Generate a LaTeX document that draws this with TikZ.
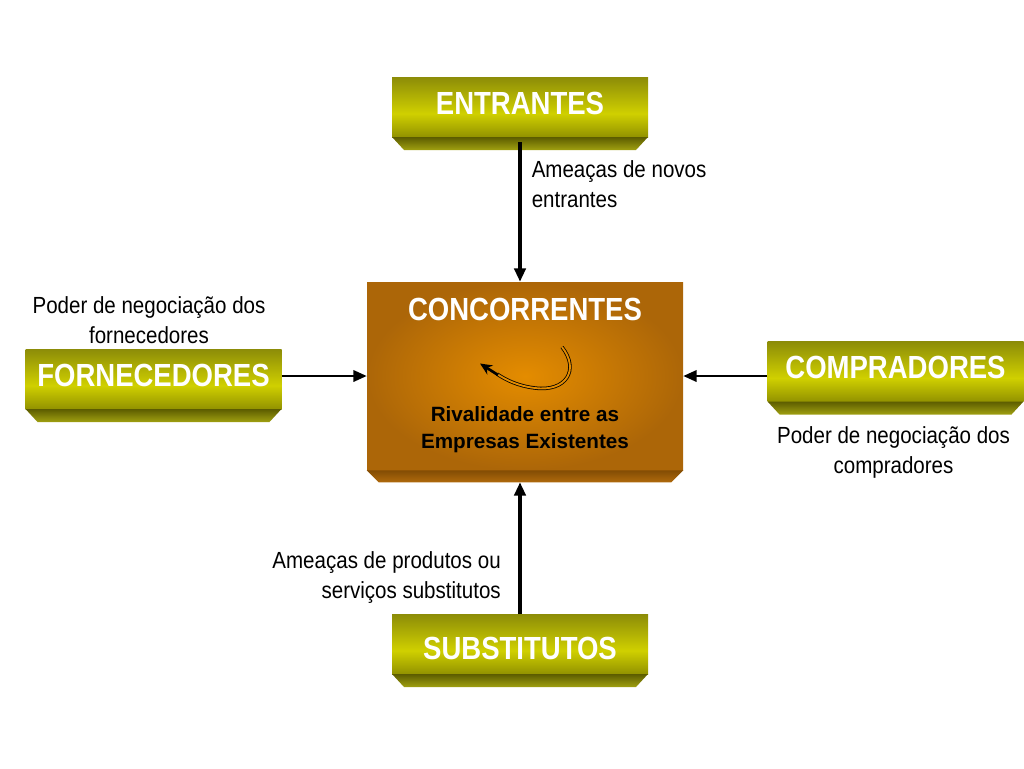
\documentclass[tikz,border=0pt]{standalone}
\usepackage{fontspec}
\setmainfont{Liberation Sans}
\newfontfamily\titlefont[FakeStretch=0.86]{Liberation Sans}
\newfontfamily\labelfont[FakeStretch=0.88]{Liberation Sans}
\usetikzlibrary{
  arrows.meta,
  calc,
  positioning,
}
\definecolor{oliveTop}{RGB}{140,140,  8}
\definecolor{oliveMid}{RGB}{208,208,  0}
\definecolor{oliveBot}{RGB}{112,112,  0}
\definecolor{oliveBevTop}{RGB}{ 92, 92,  0}
\definecolor{oliveBevBot}{RGB}{160,160, 16}
\definecolor{concIn}{RGB}{228,140,  0}
\definecolor{concOut}{RGB}{172,102,  8}
\definecolor{concBevTop}{RGB}{130, 76,  4}
\definecolor{concBevBot}{RGB}{176,106, 12}
\tikzset{
  % Olive force box (face + bevel strip)
  olivebox/.style={
    rectangle, inner sep=0pt,
    minimum width=192pt, minimum height=54.75pt,
    font=\titlefont\bfseries\fontsize{24}{28}\selectfont, text=white,
    text height=1pt, text depth=0pt,
    path picture={
      \shade[top color=oliveTop, bottom color=oliveBot, middle color=oliveMid]
        (path picture bounding box.north west) rectangle
        ([yshift=9.75pt]path picture bounding box.south east);
      \shade[top color=oliveBevTop, bottom color=oliveBevBot]
        ([yshift=9.75pt]path picture bounding box.south west)
        -- ([yshift=9.75pt]path picture bounding box.south east)
        -- ([xshift=-9pt]path picture bounding box.south east)
        -- ([xshift=9pt]path picture bounding box.south west) -- cycle;
    },
  },
  % Central box face
  concbox/.style={
    rectangle, inner sep=0pt,
    minimum width=237pt, minimum height=141pt,
    shading=radial, inner color=concIn, outer color=concOut,
  },
  % Texts
  titletext/.style={font=\titlefont\bfseries\fontsize{24}{28}\selectfont, text=white, inner sep=0pt},
  rivaltext/.style={font=\bfseries\fontsize{15.5}{20}\selectfont, align=center, inner sep=0pt},
  forcelab/.style={font=\labelfont\fontsize{17.5}{22.5}\selectfont, inner sep=0pt},
  % Arrows
  arr/.style={-{Triangle[length=10pt,width=8.5pt]}, line width=1.8pt},
  arrv/.style={arr, line width=2.4pt},
}
\begin{document}
\begin{tikzpicture}[x=0.75pt, y=-0.75pt]
\useasboundingbox (0,0) rectangle (1024,768);

% ── Five forces ───────────────────────────────────────────────────────────────
\node[olivebox] (entrantes) at (520,113.5) {ENTRANTES};
\node[olivebox] (fornecedores) at (153.5,385.5) {FORNECEDORES};
\node[olivebox] (compradores) at (895.5,378) {COMPRADORES};
\node[olivebox, text height=13pt] (substitutos) at (520,650.5) {SUBSTITUTOS};

% Central box
\node[concbox] (concorrentes) at (525,376) {};
\shade[top color=concBevTop, bottom color=concBevBot]
  (concorrentes.south west) -- (concorrentes.south east)
  -- ([shift={(-9pt,-9pt)}]concorrentes.south east)
  -- ([shift={(9pt,-9pt)}]concorrentes.south west) -- cycle;
\coordinate (concBase) at ([yshift=-9pt]concorrentes.south);

\node[titletext, anchor=base] (concTitle) at (525,320) {CONCORRENTES};
\node[rivaltext, anchor=north] (rival) at (525,406.5)
  {Rivalidade entre as\\Empresas Existentes};

% Rivalry loop
\draw[line width=0.6pt, double=concIn, double distance=1.4pt]
  (562,347) .. controls (580,370) and (566,392) .. (535,388)
  .. controls (518,386) and (506,380) .. (497,374);
\draw[line width=2pt, -{Stealth[length=9pt,width=8pt]}]
  (498,375) -- (480,363.5);

% ── Connectors ────────────────────────────────────────────────────────────────
\draw[arrv] ([yshift=6pt]entrantes.south) -- (entrantes.south |- concorrentes.north);
\draw[arr] (fornecedores.east |- concorrentes.west) -- (concorrentes.west);
\draw[arr] (compradores.west |- concorrentes.east) -- (concorrentes.east);
\draw[arrv] (substitutos.north) -- (substitutos.north |- concBase);

% ── Labels ────────────────────────────────────────────────────────────────────
\node[forcelab, align=left, anchor=north west] (labNovos) at (531.5,160)
  {Ameaças de novos\\entrantes};
\node[forcelab, align=center, anchor=north] (labForn) at (149,296)
  {Poder de negociação dos\\fornecedores};
\node[forcelab, align=center, anchor=north] (labComp) at (893.5,426)
  {Poder de negociação dos\\compradores};
\node[forcelab, align=right, anchor=north east] (labSubs) at (501,551.5)
  {Ameaças de produtos ou\\serviços substitutos};

\end{tikzpicture}
\end{document}
